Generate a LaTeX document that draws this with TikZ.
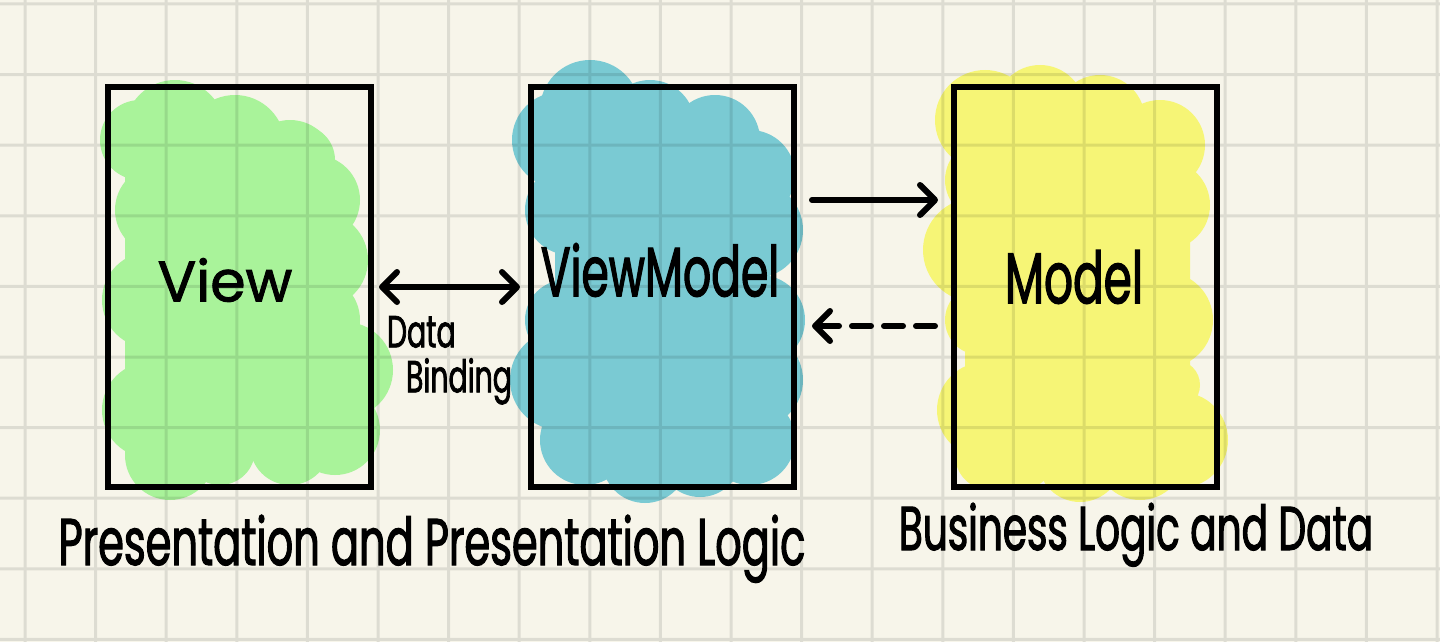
\documentclass[tikz,border=0pt]{standalone}
\usepackage{fontspec}
\usepackage{tikz}
\usetikzlibrary{arrows.meta,positioning}
\newfontfamily\hand[FakeStretch=0.63,FakeBold=1.6]{Poppins}
\newfontfamily\handwide[FakeBold=1.6]{Poppins}
\newcommand{\handsize}[1]{\hand\fontsize{#1}{#1}\selectfont}
\definecolor{paper}{HTML}{F7F5EA}
\definecolor{viewgreen}{HTML}{A9F39A}
\definecolor{vmblue}{HTML}{7ACAD3}
\definecolor{modelyellow}{HTML}{F6F576}

\begin{document}
\begin{tikzpicture}[x=1pt,y=-1pt,>={Straight Barb[length=15pt,width=30pt,round]},line width=6pt,line cap=round,node distance=423pt]
\tikzstyle{box}=[draw=black,line width=6pt,minimum width=263pt,minimum height=400pt,inner sep=0pt]
\tikzstyle{hand}=[text=black,inner sep=0pt]
\tikzstyle{gridline}=[draw=black,line width=3pt,line cap=butt]

% paper and grid
\fill[paper] (0,0) rectangle (1440,642);
\useasboundingbox (0,0) rectangle (1440,642);

% marker blobs
\fill[viewgreen,rounded corners=35pt] (125,125) rectangle (335,455);
\foreach \x/\y/\r in {140/140/40, 175/130/50, 235/145/50, 290/165/45, 315/200/45, 320/260/48, 315/320/45, 345/370/48, 335/430/45, 290/445/40, 220/450/35, 170/455/45, 150/410/48, 150/300/48, 160/210/45}
  \fill[viewgreen] (\x,\y) circle (\r pt);
\fill[vmblue,rounded corners=35pt] (555,115) rectangle (765,465);
\foreach \x/\y/\r in {590/110/50, 560/140/48, 650/125/45, 715/140/45, 750/175/45, 755/230/48, 570/210/45, 760/320/45, 755/380/48, 750/440/45, 700/455/42, 645/460/43, 585/440/45, 560/380/50, 565/320/40}
  \fill[vmblue] (\x,\y) circle (\r pt);
\fill[modelyellow,rounded corners=35pt] (965,105) rectangle (1190,475);
\foreach \x/\y/\r in {985/120/50, 985/180/40, 1040/110/45, 1100/120/45, 1160/145/45, 1165/205/45, 975/250/52, 980/320/35, 1165/320/48, 1175/385/25, 985/410/48, 990/455/35, 1180/440/48, 1140/455/45, 1080/460/42, 1020/455/35}
  \fill[modelyellow] (\x,\y) circle (\r pt);

\begin{scope}[opacity=0.1,transparency group]
\foreach \i in {0,...,20}
  \draw[gridline] ({25+70.6*\i},0) -- ({25+70.6*\i},642);
\foreach \j in {0,...,9}
  \draw[gridline] (0,{4+70.6*\j}) -- (1440,{4+70.6*\j});
\end{scope}

\node[box] (View) at (239.5,287) {};
\node[box] (ViewModel) [right of=View] {};
\node[box] (Model) [right of=ViewModel] {};

\node[hand,font=\handwide\fontsize{57}{57}\selectfont] at (225,280) {View};
\node[hand,font=\handsize{70}] at (660,270) {ViewModel};
\node[hand,font=\handsize{72}] at (1074,277) {Model};

\draw[<->] ([xshift=5pt]View.east) -- node[hand,font=\handsize{45},below=26pt,align=left] {Data\\\hspace{19pt}Binding} ([xshift=-8pt]ViewModel.west);
\draw[->] ([xshift=15pt,yshift=87pt]ViewModel.east) -- ([xshift=-13pt,yshift=87pt]Model.west);
\draw[->,dash pattern=on 19pt off 13pt] ([xshift=-16pt,yshift=-39pt]Model.west) -- ([xshift=15pt,yshift=-39pt]ViewModel.east);

\node[hand,font=\handsize{66},anchor=base] at (432,565) {Presentation and Presentation Logic};
\node[hand,font=\handsize{62},anchor=base] at (1136,550) {Business Logic and Data};
\end{tikzpicture}
\end{document}
